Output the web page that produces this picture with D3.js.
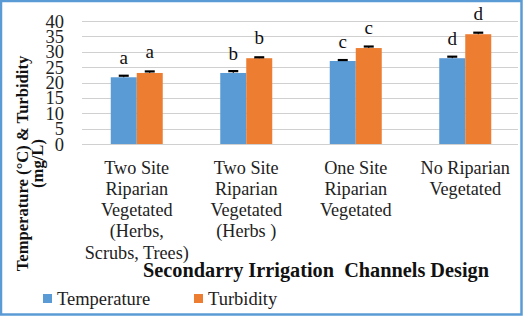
<!DOCTYPE html>
<html>
<head>
<meta charset="utf-8">
<script src="https://cdn.jsdelivr.net/npm/d3@7"></script>
<style>
  body { margin: 0; background: #fff; }
</style>
</head>
<body>
<script>
const categories = [
    ["Two Site", "Riparian", "Vegetated", "(Herbs,", "Scrubs, Trees)"],
    ["Two Site", "Riparian", "Vegetated", "(Herbs )"],
    ["One Site", "Riparian", "Vegetated"],
    ["No Riparian", "Vegetated"]
];
const series = ["Temperature", "Turbidity"];
const temperature = [21.7, 23.1, 27.0, 27.9];
const turbidity = [23.1, 27.9, 31.2, 35.7];
const temp_err = [0.5, 0.6, 0.3, 0.5];
const turb_err = [0.5, 0.3, 0.5, 0.5];
const temp_letters = ["a", "b", "c", "d"];
const turb_letters = ["a", "b", "c", "d"];
const y_ticks = [0, 5, 10, 15, 20, 25, 30, 35, 40];
const colors = ["#5b9bd5", "#ed7d31"];

const W = 523, H = 316;
const FONT = '"Liberation Serif", "Times New Roman", serif';
const margins = {top: 21, bottom: 172, left: 82, right: 3};

var svg = d3.select('body')
    .append('svg')
    .attr('width', W)
    .attr('height', H)
    .attr('font-family', FONT);

svg.append('rect')
    .attr('x', 1).attr('y', 1)
    .attr('width', W - 2.5).attr('height', H - 2.5)
    .attr('fill', '#fff')
    .attr('stroke', '#5b9bd5')
    .attr('stroke-width', 2.5);

var x_scale = d3.scaleBand()
    .domain(d3.range(categories.length))
    .range([margins.left, W - margins.right]);

var x_inner = d3.scaleBand()
    .domain(series)
    .range([0, 52]);

var y_scale = d3.scaleLinear()
    .domain([0, 40])
    .range([H - margins.bottom, margins.top]);

// gridlines
svg.append('g')
    .selectAll('line')
    .data(y_ticks)
    .enter()
    .append('line')
    .attr('x1', margins.left)
    .attr('x2', W - margins.right - 2)
    .attr('y1', d => Math.round(y_scale(d)) + 0.5)
    .attr('y2', d => Math.round(y_scale(d)) + 0.5)
    .attr('stroke', '#d0d0d0')
    .attr('stroke-width', 1.2);

// y axis labels
let y_axis = d3.axisLeft(y_scale).tickValues(y_ticks).tickSize(0).tickPadding(18);
let yg = svg.append('g')
    .attr('transform', 'translate(' + margins.left + ',0)')
    .call(y_axis);
yg.attr('font-family', FONT).attr('font-size', null);
yg.select('.domain').remove();
yg.selectAll('text')
    .attr('font-size', '18.5px')
    .attr('fill', '#222')
    .attr('dy', '0.33em');

var data_array = [];
categories.forEach((c, i) => {
    data_array.push({i: i, s: series[0], v: temperature[i], e: temp_err[i], l: temp_letters[i]});
    data_array.push({i: i, s: series[1], v: turbidity[i], e: turb_err[i], l: turb_letters[i]});
});

function bar_x(d) {
    return x_scale(d.i) + x_scale.bandwidth() / 2 - 26 + x_inner(d.s);
}

svg.append('g')
    .selectAll('rect')
    .data(data_array)
    .enter()
    .append('rect')
    .attr('x', d => bar_x(d))
    .attr('y', d => y_scale(d.v))
    .attr('width', x_inner.bandwidth())
    .attr('height', d => y_scale(0) - y_scale(d.v))
    .attr('fill', d => colors[series.indexOf(d.s)]);

// error bars
var err = svg.append('g');
err.selectAll('line.v')
    .data(data_array)
    .enter()
    .append('line')
    .attr('x1', d => bar_x(d) + 13)
    .attr('x2', d => bar_x(d) + 13)
    .attr('y1', d => y_scale(d.v))
    .attr('y2', d => y_scale(d.v + d.e))
    .attr('stroke', '#000')
    .attr('stroke-width', 1);
err.selectAll('line.cap')
    .data(data_array)
    .enter()
    .append('line')
    .attr('x1', d => bar_x(d) + 8)
    .attr('x2', d => bar_x(d) + 18)
    .attr('y1', d => y_scale(d.v + d.e))
    .attr('y2', d => y_scale(d.v + d.e))
    .attr('stroke', '#000')
    .attr('stroke-width', 2.2);

// letters
svg.append('g')
    .selectAll('text')
    .data(data_array)
    .enter()
    .append('text')
    .attr('x', d => bar_x(d) + 13)
    .attr('y', d => y_scale(d.v) - (d.s === series[0] ? 13 : 14.5))
    .attr('text-anchor', 'middle')
    .attr('font-size', '19px')
    .attr('fill', '#111')
    .text(d => d.l);

// category labels
var cat = svg.append('g')
    .selectAll('text')
    .data(categories)
    .enter()
    .append('text')
    .attr('text-anchor', 'middle')
    .attr('font-size', '18.2px')
    .attr('fill', '#222');
cat.selectAll('tspan')
    .data((d, i) => d.map(t => ({t: t, i: i})))
    .enter()
    .append('tspan')
    .attr('x', d => x_scale(d.i) + x_scale.bandwidth() / 2)
    .attr('y', (d, j) => 173.5 + j * 21.3)
    .text(d => d.t);

// x title
svg.append('text')
    .attr('x', 316)
    .attr('y', 276.5)
    .attr('text-anchor', 'middle')
    .attr('font-size', '20.3px')
    .attr('font-weight', 'bold')
    .attr('fill', '#111')
    .style('white-space', 'pre')
    .text('Secondarry Irrigation  Channels Design');

// y title
var yt = svg.append('text')
    .attr('transform', 'translate(28,163.5) rotate(-90)')
    .attr('text-anchor', 'middle')
    .attr('font-size', '16.6px')
    .attr('font-weight', 'bold')
    .attr('fill', '#111');
yt.append('tspan').attr('x', 0).attr('y', 0).text('Temperature (°C) & Turbidity');
yt.append('tspan').attr('x', 0).attr('y', 15).text('(mg/L)');

// legend
var legend = svg.append('g')
    .selectAll('g')
    .data(series)
    .enter()
    .append('g')
    .attr('transform', (d, i) => 'translate(' + [43, 194][i] + ',294)');
legend.append('rect')
    .attr('width', 9).attr('height', 9)
    .attr('fill', (d, i) => colors[i]);
legend.append('text')
    .attr('x', 14)
    .attr('y', 11)
    .attr('font-size', '18.5px')
    .attr('fill', '#222')
    .text(d => d);
</script>
</body>
</html>
